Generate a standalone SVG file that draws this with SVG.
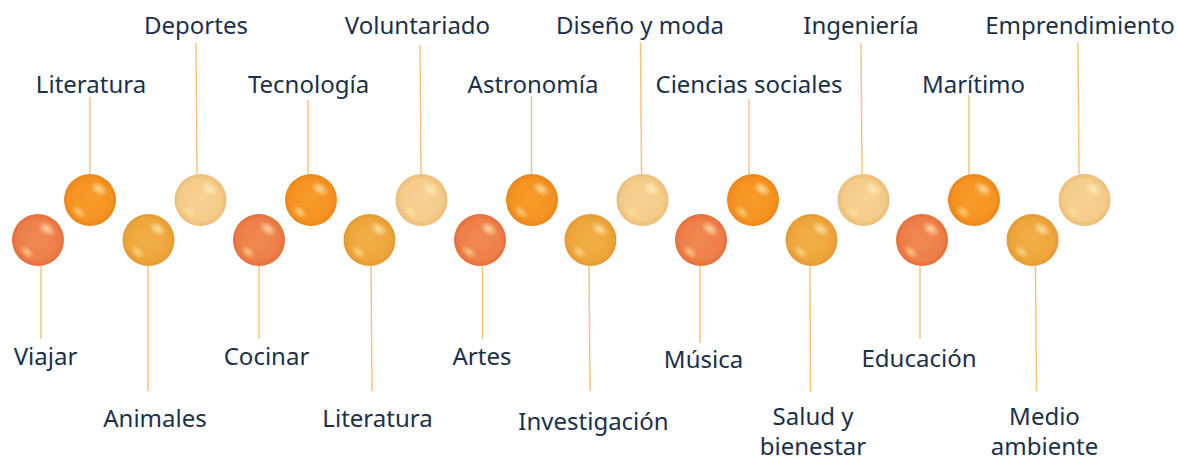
<svg xmlns="http://www.w3.org/2000/svg" width="1179" height="462" viewBox="0 0 1179 462">
<style>
.lbl{font-family:"Noto Sans","Open Sans","DejaVu Sans",sans-serif;font-size:24px;fill:#1b3049;text-anchor:middle}
.con{stroke:#f7c47c;stroke-width:1.5;fill:none}
.hl1{fill:url(#hlA)}
.hl2{fill:url(#hlB)}
</style>
<defs>
<radialGradient id="gR" cx="0.5" cy="0.5" r="0.5"><stop offset="0" stop-color="#f08a55"/><stop offset="0.8" stop-color="#ee7e47"/><stop offset="1" stop-color="#e46f3a"/></radialGradient>
<radialGradient id="gO" cx="0.5" cy="0.5" r="0.5"><stop offset="0" stop-color="#f79d2c"/><stop offset="0.8" stop-color="#f5921f"/><stop offset="1" stop-color="#ea861a"/></radialGradient>
<radialGradient id="gA" cx="0.5" cy="0.5" r="0.5"><stop offset="0" stop-color="#f1b04a"/><stop offset="0.8" stop-color="#eea53a"/><stop offset="1" stop-color="#e39a33"/></radialGradient>
<radialGradient id="gP" cx="0.5" cy="0.5" r="0.5"><stop offset="0" stop-color="#f7d398"/><stop offset="0.8" stop-color="#f4cb88"/><stop offset="1" stop-color="#ecbd78"/></radialGradient>
<radialGradient id="hlA" cx="0.5" cy="0.5" r="0.5"><stop offset="0" stop-color="#fff6c8" stop-opacity="0.7"/><stop offset="1" stop-color="#fff6c8" stop-opacity="0"/></radialGradient>
<radialGradient id="hlB" cx="0.5" cy="0.5" r="0.5"><stop offset="0" stop-color="#ffe9a0" stop-opacity="0.65"/><stop offset="1" stop-color="#ffe9a0" stop-opacity="0"/></radialGradient>
<g id="shine">
<ellipse class="hl1" cx="9" cy="-11" rx="10" ry="6.5" transform="rotate(35 9 -11)"/>
<ellipse class="hl2" cx="-11" cy="12" rx="9" ry="5.5" transform="rotate(40 -11 12)"/>
</g>
</defs>
<rect width="1179" height="462" fill="#ffffff"/>
<g id="connectors">
<line class="con" x1="41" y1="266" x2="41" y2="339"/>
<line class="con" x1="90" y1="97" x2="90" y2="174"/>
<line class="con" x1="148" y1="266" x2="148" y2="391"/>
<line class="con" x1="196" y1="43" x2="197" y2="174"/>
<line class="con" x1="259" y1="266" x2="259" y2="339"/>
<line class="con" x1="308" y1="100" x2="308" y2="174"/>
<line class="con" x1="371" y1="266" x2="372" y2="391"/>
<line class="con" x1="420" y1="45" x2="421" y2="174"/>
<line class="con" x1="482.5" y1="266" x2="482.5" y2="339"/>
<line class="con" x1="531.5" y1="96" x2="531.5" y2="174"/>
<line class="con" x1="589" y1="266" x2="590" y2="391"/>
<line class="con" x1="640.5" y1="42" x2="641.5" y2="174"/>
<line class="con" x1="700" y1="266" x2="700" y2="343"/>
<line class="con" x1="749" y1="99" x2="749" y2="174"/>
<line class="con" x1="810" y1="266" x2="810.5" y2="392"/>
<line class="con" x1="861" y1="43" x2="862" y2="174"/>
<line class="con" x1="920" y1="266" x2="920" y2="339"/>
<line class="con" x1="969" y1="95" x2="969" y2="174"/>
<line class="con" x1="1035.5" y1="266" x2="1036.5" y2="391"/>
<line class="con" x1="1078" y1="42" x2="1079" y2="174"/>
</g>
<g id="n1"><circle cx="38" cy="240" r="26" fill="url(#gR)"/><use href="#shine" x="38" y="240"/><text class="lbl" x="45.5" y="365">Viajar</text></g>
<g id="n2"><circle cx="90" cy="200" r="26" fill="url(#gO)"/><use href="#shine" x="90" y="200"/><text class="lbl" x="91" y="92.5">Literatura</text></g>
<g id="n3"><circle cx="148.5" cy="240" r="26" fill="url(#gA)"/><use href="#shine" x="148.5" y="240"/><text class="lbl" x="155" y="427">Animales</text></g>
<g id="n4"><circle cx="200.5" cy="200" r="26" fill="url(#gP)"/><use href="#shine" x="200.5" y="200"/><text class="lbl" x="196" y="34">Deportes</text></g>
<g id="n5"><circle cx="259" cy="240" r="26" fill="url(#gR)"/><use href="#shine" x="259" y="240"/><text class="lbl" x="266.5" y="365">Cocinar</text></g>
<g id="n6"><circle cx="311" cy="200" r="26" fill="url(#gO)"/><use href="#shine" x="311" y="200"/><text class="lbl" x="308.5" y="92.5">Tecnología</text></g>
<g id="n7"><circle cx="369.5" cy="240" r="26" fill="url(#gA)"/><use href="#shine" x="369.5" y="240"/><text class="lbl" x="377.5" y="427">Literatura</text></g>
<g id="n8"><circle cx="421.5" cy="200" r="26" fill="url(#gP)"/><use href="#shine" x="421.5" y="200"/><text class="lbl" x="417.5" y="34">Voluntariado</text></g>
<g id="n9"><circle cx="480" cy="240" r="26" fill="url(#gR)"/><use href="#shine" x="480" y="240"/><text class="lbl" x="482" y="365">Artes</text></g>
<g id="n10"><circle cx="532" cy="200" r="26" fill="url(#gO)"/><use href="#shine" x="532" y="200"/><text class="lbl" x="533" y="92.5">Astronomía</text></g>
<g id="n11"><circle cx="590.5" cy="240" r="26" fill="url(#gA)"/><use href="#shine" x="590.5" y="240"/><text class="lbl" x="593.5" y="430">Investigación</text></g>
<g id="n12"><circle cx="642.5" cy="200" r="26" fill="url(#gP)"/><use href="#shine" x="642.5" y="200"/><text class="lbl" x="640" y="34">Diseño y moda</text></g>
<g id="n13"><circle cx="701" cy="240" r="26" fill="url(#gR)"/><use href="#shine" x="701" y="240"/><text class="lbl" x="703.5" y="368">Música</text></g>
<g id="n14"><circle cx="753" cy="200" r="26" fill="url(#gO)"/><use href="#shine" x="753" y="200"/><text class="lbl" x="749" y="92.5">Ciencias sociales</text></g>
<g id="n15"><circle cx="811.5" cy="240" r="26" fill="url(#gA)"/><use href="#shine" x="811.5" y="240"/><text class="lbl" x="813" y="425"><tspan x="813">Salud y</tspan><tspan x="813" dy="30">bienestar</tspan></text></g>
<g id="n16"><circle cx="863.5" cy="200" r="26" fill="url(#gP)"/><use href="#shine" x="863.5" y="200"/><text class="lbl" x="861" y="34">Ingeniería</text></g>
<g id="n17"><circle cx="922" cy="240" r="26" fill="url(#gR)"/><use href="#shine" x="922" y="240"/><text class="lbl" x="919" y="367">Educación</text></g>
<g id="n18"><circle cx="974" cy="200" r="26" fill="url(#gO)"/><use href="#shine" x="974" y="200"/><text class="lbl" x="973.5" y="92.5">Marítimo</text></g>
<g id="n19"><circle cx="1032.5" cy="240" r="26" fill="url(#gA)"/><use href="#shine" x="1032.5" y="240"/><text class="lbl" x="1044.5" y="425"><tspan x="1044.5">Medio</tspan><tspan x="1044.5" dy="30">ambiente</tspan></text></g>
<g id="n20"><circle cx="1084.5" cy="200" r="26" fill="url(#gP)"/><use href="#shine" x="1084.5" y="200"/><text class="lbl" x="1080" y="34">Emprendimiento</text></g>
</svg>
